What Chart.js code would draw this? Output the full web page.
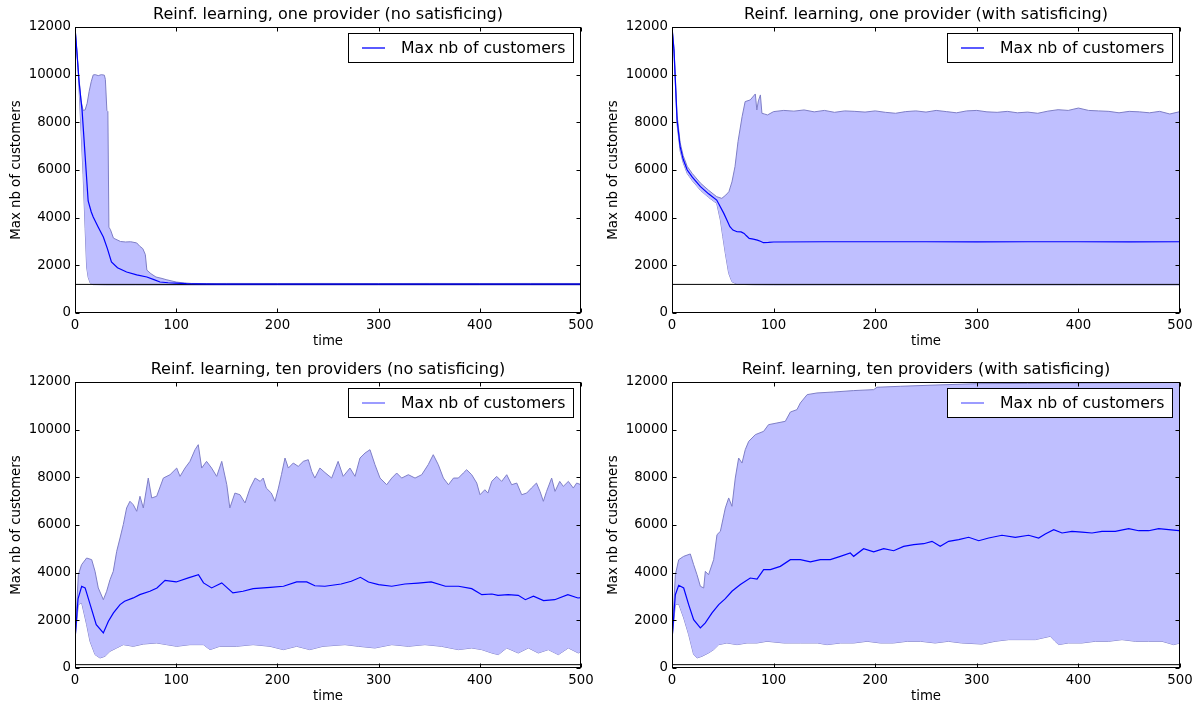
<!DOCTYPE html>
<html>
<head>
<meta charset="utf-8">
<script src="https://cdn.jsdelivr.net/npm/chart.js"></script>
<style>
  body { margin: 0; background: #fff; width: 1202px; height: 709px; position: relative; overflow: hidden; }
  canvas { position: absolute; }
</style>
</head>
<body>
<canvas id="c1" width="600" height="354" style="left:0;top:0"></canvas>
<canvas id="c2" width="602" height="354" style="left:600px;top:0"></canvas>
<canvas id="c3" width="600" height="355" style="left:0;top:354px"></canvas>
<canvas id="c4" width="602" height="355" style="left:600px;top:354px"></canvas>

<script>
    // axis ticks
    const xTicks = [0, 100, 200, 300, 400, 500];
    const yTicks = [0, 2000, 4000, 6000, 8000, 10000, 12000];
    const legendLabel = 'Max nb of customers';
    const xLabel = 'time';
    const yLabel = 'Max nb of customers';

    // reference levels (black horizontal lines)
    const refOne = 1200;
    const refTen = 140;

    // one provider, no satisficing  [time, value]
    const tlMean = [[0,12000],[2,10900],[4,9700],[7,8500],[10,6600],[13,4700],[16,4250],[18,4030],[23,3600],[28,3190],[32,2700],[36,2140],[42,1900],[51,1720],[61,1600],[71,1510],[78,1400],[84,1300],[92,1270],[100,1250],[110,1230],[120,1220],[140,1215],[200,1212],[300,1210],[400,1212],[500,1210]];
    const tlUpper = [[0,12000],[3,10300],[6,8900],[8,8500],[10,8520],[12,8800],[14,9300],[16,9700],[18,9990],[20,10000],[23,9960],[26,10000],[29,9980],[30,9800],[31.5,8500],[32.5,8450],[33.5,3600],[35,3500],[38,3140],[45,3000],[50,2980],[55,2990],[61,2940],[64,2800],[67,2700],[69.5,2450],[71,1800],[75,1650],[80,1510],[86,1450],[90,1400],[95,1350],[100,1300],[108,1260],[115,1240],[130,1235],[150,1240],[200,1238],[250,1240],[300,1236],[350,1240],[400,1238],[450,1240],[500,1238]];
    const tlLower = [[0,12000],[3,10300],[6,7600],[8,5800],[10,3550],[11.5,1930],[13,1500],[15,1260],[18,1190],[30,1180],[60,1180],[100,1180],[200,1180],[300,1180],[400,1180],[500,1180]];

    // one provider, with satisficing
    const trMean = [[0,12000],[2,11000],[5,8100],[8,6980],[11,6450],[15,6000],[20,5700],[28,5300],[36,5000],[44,4740],[47,4500],[51,4180],[54,3900],[57,3620],[60,3480],[64,3410],[68,3400],[71,3340],[73,3250],[76,3130],[80,3100],[84,3060],[87,3010],[90,2950],[95,2960],[100,2980],[150,2990],[200,2990],[250,2990],[300,2985],[350,2990],[400,2990],[450,2985],[500,2990]];
    const trUpper = [[0,12000],[2,11100],[5,8300],[8,7150],[11,6600],[15,6150],[20,5850],[28,5450],[36,5150],[44,4880],[49,4810],[53,4950],[56,5090],[59,5500],[62,6140],[65,7200],[69,8240],[72,8870],[77,8940],[82,9190],[83.5,8520],[85,8900],[87,9150],[88.5,8380],[91,8350],[94,8310],[100,8450],[110,8500],[120,8470],[130,8520],[140,8440],[150,8500],[160,8420],[170,8480],[180,8460],[190,8430],[200,8480],[210,8420],[220,8380],[230,8450],[240,8480],[250,8430],[260,8500],[270,8450],[280,8400],[290,8480],[300,8500],[310,8440],[320,8420],[330,8460],[340,8400],[350,8430],[360,8380],[370,8470],[380,8530],[390,8500],[400,8600],[410,8500],[420,8480],[430,8460],[440,8400],[450,8460],[460,8440],[470,8400],[480,8460],[490,8350],[500,8450]];
    const trLower = [[0,12000],[2,10900],[5,7900],[8,6800],[11,6300],[15,5850],[20,5550],[28,5150],[36,4850],[44,4600],[47.6,3900],[50,3200],[52.5,2500],[55.8,1660],[59,1310],[63,1230],[67,1200],[80,1185],[100,1180],[200,1180],[300,1180],[400,1180],[500,1180]];

    // ten providers, no satisficing
    const blMean = [[0,1190],[3,2900],[6.6,3430],[10,3360],[15,2660],[21,1820],[28,1470],[33,1960],[38,2310],[44.5,2660],[49,2800],[57.6,2940],[64,3080],[74,3220],[81,3360],[89,3680],[100,3610],[112,3780],[122,3915],[127,3570],[135,3360],[145,3570],[156,3150],[166,3220],[176,3330],[193,3385],[206,3430],[219,3610],[229,3610],[237,3450],[247,3430],[263,3525],[273,3640],[282,3805],[290,3610],[300,3495],[313,3430],[326,3525],[339,3565],[352,3610],[366,3430],[379,3430],[392,3330],[402,3075],[412,3105],[418,3050],[428,3075],[438,3050],[445,2866],[453,3010],[463,2825],[474,2866],[487,3075],[497,2937],[500,2950]];
    const blUpper = [[0,1200],[3.3,3915],[6.5,4335],[11.5,4615],[16.5,4545],[19.8,4055],[23,3360],[28,2866],[31.3,3220],[34.6,3705],[37.8,4055],[41.2,4895],[44.5,5455],[47.7,6015],[51,6715],[54.3,6995],[57.6,6850],[61,6575],[64.2,7205],[67.5,6715],[72.4,7970],[75.8,7135],[80.7,7205],[87.3,7970],[93.9,8110],[100.5,8390],[103.8,8040],[108.7,8390],[113.6,8670],[118.6,9160],[121.8,9370],[125.2,8390],[130,8670],[135,8390],[140,8040],[145,8670],[150,7690],[153,6715],[158,7340],[163,7270],[168,6925],[173,7550],[178,7970],[183,7830],[186,7970],[189,7550],[194,7340],[197.6,6995],[201,7550],[204,8110],[207.5,8810],[210.8,8390],[215.7,8600],[220.6,8460],[225.6,8670],[230.5,8740],[233.9,8250],[237,7970],[242,8390],[247,8200],[253.6,7970],[260,8670],[265,8040],[271.7,8390],[276.7,8040],[281.6,8810],[286.6,9020],[291.5,9160],[296.4,8530],[301.4,7970],[308,7690],[313,7970],[317.9,8180],[322.8,7970],[329.4,8110],[336,7970],[342.6,8110],[349,8530],[354,8950],[359,8530],[364,7970],[369,7690],[374,7970],[378.8,7970],[383.7,8180],[387,8320],[392,8110],[397,7760],[400.2,7270],[405,7480],[408,7340],[411.8,7830],[416.7,8040],[421.6,7830],[426.6,8110],[431.5,7690],[436.5,7760],[441.4,7270],[446.3,7340],[451,7550],[456,7760],[459.5,7410],[462.8,6995],[466,7410],[471,7970],[474.3,7410],[479,7830],[482.5,7620],[487.5,7830],[492.4,7550],[495.7,7760],[500,7690]];
    const blLower = [[0,1200],[3.3,2660],[6.6,2730],[11.5,1820],[14.8,1120],[19.8,560],[24.7,420],[29.6,490],[34.6,700],[41.2,840],[47.7,980],[57.6,910],[67.5,1005],[80.7,1050],[90.6,980],[100.5,910],[113.6,980],[126.8,980],[133.4,770],[143,910],[159.7,910],[176,980],[192.7,910],[205.8,770],[219,910],[232,770],[245,910],[266.8,980],[280,910],[296.4,840],[313,980],[329.4,910],[345.8,980],[362,910],[378.8,770],[392,840],[402,770],[411.8,630],[418.3,560],[426.6,840],[438,630],[448,840],[457.8,630],[467.7,770],[477.6,560],[487.5,840],[497.3,630],[500,700]];

    // ten providers, with satisficing
    const brMean = [[0,1190],[3.3,3075],[6.6,3470],[11.5,3357],[16.4,2660],[21.3,2030],[27.9,1680],[32.8,1890],[39.4,2310],[46,2660],[52.5,2910],[59,3220],[67.3,3500],[77,3775],[83.7,3735],[90.2,4125],[96.8,4125],[106.6,4265],[116.5,4545],[126.3,4545],[136.2,4450],[146,4545],[155.8,4545],[165.7,4685],[175.5,4825],[178.8,4685],[188.6,5005],[198.5,4870],[208.4,5005],[218.2,4920],[228,5105],[237.9,5175],[247.7,5215],[255.9,5315],[264,5105],[272.3,5315],[282.2,5385],[292,5485],[301.9,5340],[311.7,5455],[324.8,5570],[337.9,5485],[351,5570],[360.9,5455],[367.4,5625],[375.7,5805],[383.9,5665],[393.7,5735],[403.5,5705],[413.4,5665],[423.2,5735],[436.3,5735],[449.5,5845],[459.3,5760],[469.2,5760],[479,5845],[488.9,5805],[498.7,5760],[500,5800]];
    const brUpper = [[0,1200],[3.3,3915],[6.6,4545],[11.5,4685],[18,4785],[21.3,4335],[24.6,3915],[27.9,3430],[31.2,3357],[32.8,4055],[36,3915],[41,4545],[44.3,5595],[47.6,5735],[52.5,6715],[55.8,7135],[59,6785],[62.3,7970],[65.6,8810],[68.9,8600],[72.1,9160],[75.5,9510],[82,9790],[90.2,9930],[95,10210],[103.3,10280],[111.5,10350],[116.5,10740],[123,10840],[126.3,11120],[133,11470],[142.7,11540],[159,11580],[178.8,11640],[198.5,11680],[201.8,11780],[224.7,11820],[251,11860],[300,11930],[350,11940],[400,11960],[450,11970],[500,11980]];
    const brLower = [[0,1200],[3.3,2660],[6.6,2685],[11.5,2100],[16.4,1400],[21.3,560],[24.6,420],[29.5,490],[36,630],[41,770],[46,980],[54,1050],[64,980],[73.8,1050],[83.7,1050],[93.5,1120],[110,1050],[126.3,1050],[143,1050],[152.6,980],[166,1050],[179,1050],[192,1120],[205,1050],[218,1050],[231.5,1120],[244.6,1120],[259,1050],[272,1120],[285,1050],[305,1005],[318,1120],[331.4,1190],[344.5,1190],[357.6,1190],[372.3,1330],[377,1120],[380.6,980],[390,1050],[403.5,1050],[416.6,1120],[429.8,1120],[442.9,1190],[456,1120],[469.2,1120],[482.3,1120],[493.8,980],[500,1050]];

    const FONT = '"DejaVu Sans", sans-serif';
    const bandFill = '#bfbfff';
    const bandEdge = '#7e7ec6';

    const panels = [
        { id: 'c1', title: 'Reinf. learning, one provider (no satisficing)', mean: tlMean, upper: tlUpper, lower: tlLower, ref: refOne, area: [75, 27, 581, 313], yTitleX: 17, legendColor: '#0000ff' },
        { id: 'c2', title: 'Reinf. learning, one provider (with satisficing)', mean: trMean, upper: trUpper, lower: trLower, ref: refOne, area: [72, 27, 580, 313], yTitleX: 14, legendColor: '#0000ff' },
        { id: 'c3', title: 'Reinf. learning, ten providers (no satisficing)', mean: blMean, upper: blUpper, lower: blLower, ref: refTen, area: [75, 28, 581, 314], yTitleX: 17, legendColor: '#6666ff' },
        { id: 'c4', title: 'Reinf. learning, ten providers (with satisficing)', mean: brMean, upper: brUpper, lower: brLower, ref: refTen, area: [72, 28, 580, 314], yTitleX: 14, legendColor: '#6666ff' }
    ];

    const toXY = arr => arr.map(p => ({ x: p[0], y: p[1] }));

    // frame, inward ticks, title and legend, matplotlib style
    const decor = {
        id: 'decor',
        afterDatasetsDraw(chart, args, opts) {
            const { ctx, chartArea: a, scales: { x, y } } = chart;
            const L = Math.round(a.left) + 0.5, R = Math.round(a.right) - 0.5;
            const T = Math.round(a.top) + 0.5, B = Math.round(a.bottom) - 0.5;
            ctx.save();
            ctx.strokeStyle = '#000';
            ctx.lineWidth = 1;
            ctx.strokeRect(L, T, R - L, B - T);
            ctx.beginPath();
            yTicks.forEach(v => {
                const py = Math.round(y.getPixelForValue(v)) + 0.5;
                ctx.moveTo(L, py); ctx.lineTo(L + 4, py);
                ctx.moveTo(R, py); ctx.lineTo(R - 4, py);
            });
            xTicks.forEach(v => {
                const px = Math.round(x.getPixelForValue(v)) + 0.5;
                ctx.moveTo(px, B); ctx.lineTo(px, B - 4);
                ctx.moveTo(px, T); ctx.lineTo(px, T + 4);
            });
            ctx.stroke();

            // title
            ctx.fillStyle = '#000';
            ctx.font = '16px ' + FONT;
            ctx.textAlign = 'center';
            ctx.textBaseline = 'middle';
            ctx.fillText(opts.title, (a.left + a.right) / 2, a.top - 12);

            // legend
            ctx.font = '15.7px ' + FONT;
            const bw = 225, bh = 29;
            const bx = Math.round(a.right) - 8 - bw, by = Math.round(a.top) + 6;
            ctx.fillStyle = '#fff';
            ctx.fillRect(bx, by, bw, bh);
            ctx.strokeRect(bx + 0.5, by + 0.5, bw, bh);
            ctx.strokeStyle = opts.legendColor;
            ctx.lineWidth = 1.3;
            ctx.beginPath();
            ctx.moveTo(bx + 14, by + bh / 2 + 0.5);
            ctx.lineTo(bx + 37, by + bh / 2 + 0.5);
            ctx.stroke();
            ctx.fillStyle = '#000';
            ctx.textAlign = 'left';
            ctx.fillText(legendLabel, bx + 53, by + bh / 2 + 1);
            ctx.restore();
        }
    };

    panels.forEach(p => {
        const canvas = document.getElementById(p.id);
        const W = canvas.width, H = canvas.height;
        const [aL, aT, aR, aB] = p.area;
        const tickFont = { family: FONT, size: 13.3 };
        new Chart(canvas.getContext('2d'), {
            type: 'line',
            data: {
                datasets: [
                    { data: toXY(p.mean), borderColor: '#0000ff', borderWidth: 1.2, pointRadius: 0, fill: false },
                    { data: [{ x: xTicks[0], y: p.ref }, { x: xTicks[xTicks.length - 1], y: p.ref }], borderColor: '#000', borderWidth: 1, pointRadius: 0, fill: false },
                    { data: toXY(p.upper), borderColor: bandEdge, borderWidth: 1, pointRadius: 0, backgroundColor: bandFill, fill: { target: 3 } },
                    { data: toXY(p.lower), borderColor: bandEdge, borderWidth: 1, pointRadius: 0, fill: false }
                ]
            },
            options: {
                responsive: false,
                animation: false,
                devicePixelRatio: 1,
                layout: { padding: { left: 0, top: aT, right: W - aR, bottom: 0 } },
                elements: { line: { tension: 0 } },
                scales: {
                    x: {
                        type: 'linear', min: 0, max: 500,
                        afterBuildTicks: s => { s.ticks = xTicks.map(v => ({ value: v })); },
                        afterFit: s => { s.height = H - aB; },
                        grid: { display: false, drawTicks: false },
                        border: { display: false },
                        ticks: { padding: 5, color: '#000', font: tickFont, maxRotation: 0, autoSkip: false, callback: v => String(v) },
                        title: { display: true, text: xLabel, color: '#000', font: tickFont, padding: { top: 0, bottom: 4 } }
                    },
                    y: {
                        min: 0, max: 12000,
                        afterBuildTicks: s => { s.ticks = yTicks.map(v => ({ value: v })); },
                        afterFit: s => { s.width = aL; },
                        grid: { display: false, drawTicks: false },
                        border: { display: false },
                        ticks: { padding: 4, color: '#000', font: tickFont, autoSkip: false, callback: v => String(v) },
                        title: { display: true, text: yLabel, color: '#000', font: tickFont, padding: { top: p.yTitleX - 8, bottom: 0 } }
                    }
                },
                plugins: {
                    legend: { display: false },
                    tooltip: { enabled: false },
                    decor: { title: p.title, legendColor: p.legendColor }
                }
            },
            plugins: [decor]
        });
    });
</script>
</body>
</html>
